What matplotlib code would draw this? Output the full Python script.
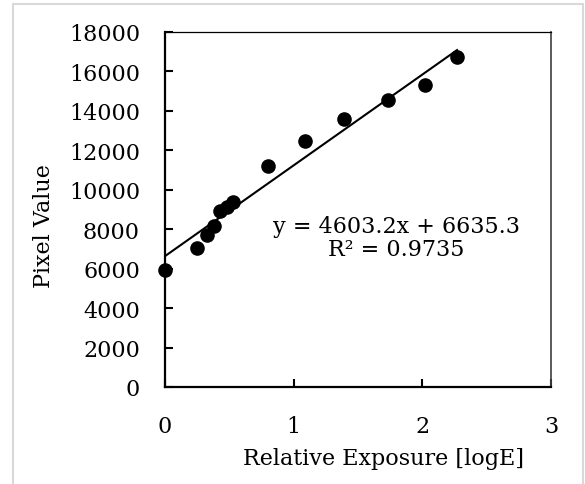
import matplotlib
matplotlib.use("Agg")
import matplotlib.pyplot as plt
from matplotlib.patches import Rectangle
import numpy as np

# relative exposure [logE] vs pixel value
exposure = [0.0, 0.25, 0.33, 0.38, 0.43, 0.48, 0.53, 0.80, 1.09, 1.39, 1.73, 2.02, 2.27]
pixel_value = [5950, 7030, 7710, 8180, 8910, 9110, 9370, 11210, 12470, 13590, 14540, 15310, 16720]

# linear trendline as reported on the chart
slope = 4603.2
intercept = 6635.3
r_squared = 0.9735

x_ticks = [0, 1, 2, 3]
y_ticks = list(range(0, 18001, 2000))

plt.rcParams['font.family'] = ['DejaVu Serif']
plt.rcParams['font.size'] = 16

fig = plt.figure(figsize=(5.85, 4.85), dpi=100)
# light gray chart border
fig.patches.append(Rectangle((13 / 585, -0.05), 570 / 585, 1 - 5 / 485 + 0.05,
                             transform=fig.transFigure, fill=False,
                             edgecolor='#d9d9d9', linewidth=1.5))

ax = fig.add_axes([165 / 585, 0.2, (551 - 165) / 585, (388 - 33) / 485])

x = np.array(exposure)
y = np.array(pixel_value)
xs = np.array([x.min(), x.max()])
ax.plot(xs, slope * xs + intercept, color='black', linewidth=1.5, zorder=2)
ax.scatter(x, y, s=90, color='black', zorder=3, clip_on=False)

ax.set_xlim(0, 3)
ax.set_ylim(0, 18000)
ax.set_xticks(x_ticks)
ax.set_yticks(y_ticks)
ax.tick_params(direction='in', length=6, width=1.5, colors='black', labelsize=16)
ax.tick_params(axis='x', pad=20)
ax.tick_params(axis='y', pad=18)

ax.spines['left'].set_linewidth(1.6)
ax.spines['bottom'].set_linewidth(1.6)
ax.spines['top'].set_linewidth(0.9)
ax.spines['right'].set_linewidth(1.2)
ax.spines['right'].set_color('#404040')

ax.set_ylabel('Pixel Value', fontsize=16)
ax.yaxis.set_label_coords(-0.285, 0.455)
ax.set_xlabel('Relative Exposure [logE]', fontsize=16)
ax.xaxis.set_label_coords(0.567, -0.17)

ax.text(1.80, 7580, 'y = {:.1f}x + {:.1f}\nR² = {:.4f}'.format(slope, intercept, r_squared),
        ha='center', va='center', fontsize=16, linespacing=1.1)

fig.savefig('out.png', dpi=100)
